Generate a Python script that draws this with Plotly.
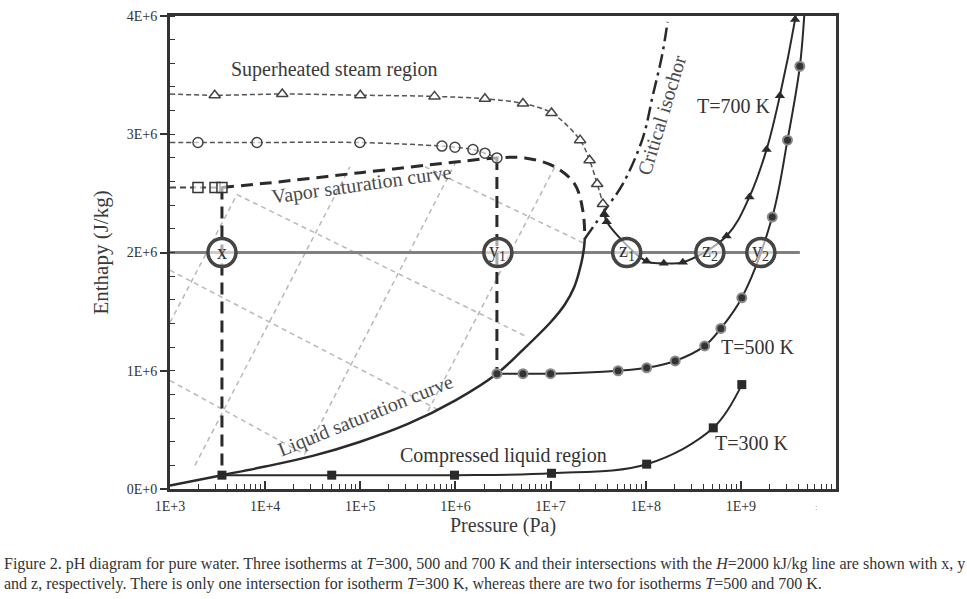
import numpy as np
import plotly.graph_objects as go

FONT = "Liberation Serif, Times New Roman, serif"
DARK = "#2a2a2a"
TXT = "#3a3a3a"

# ---------------- data (pressure as log10 P [Pa], enthalpy in J/kg) ----------------
liq_sat_logP = [3.0, 3.546, 4.0, 4.5, 5.0, 5.5, 6.0, 6.436, 6.7, 7.0, 7.15, 7.25, 7.32, 7.35, 7.36]
liq_sat_H = [0.03e6, 0.117e6, 0.19e6, 0.28e6, 0.40e6, 0.55e6, 0.75e6, 0.975e6, 1.17e6,
             1.41e6, 1.56e6, 1.71e6, 1.90e6, 2.03e6, 2.117e6]

vap_sat_logP = [3.546, 4.0, 5.0, 6.0, 6.436, 6.73, 7.045, 7.256, 7.34, 7.36]
vap_sat_H = [2.55e6, 2.585e6, 2.675e6, 2.765e6, 2.80e6, 2.80e6, 2.725e6, 2.575e6, 2.35e6, 2.117e6]

crit_iso_logP = [7.36, 7.59, 7.76, 7.97, 8.075, 8.17, 8.23]
crit_iso_H = [2.117e6, 2.38e6, 2.58e6, 2.97e6, 3.33e6, 3.66e6, 3.95e6]

# T = 300 K
t300_vap_logP = [3.0, 3.294, 3.473, 3.546]
t300_vap_H = [2.55e6, 2.55e6, 2.55e6, 2.55e6]
t300_liq_logP = [3.546, 4.70, 5.99, 7.01, 8.01, 8.71, 9.01]
t300_liq_H = [0.117e6, 0.117e6, 0.117e6, 0.133e6, 0.21e6, 0.517e6, 0.883e6]

# T = 500 K
t500_vap_logP = [3.0, 3.294, 3.914, 4.996, 5.858, 5.995, 6.184, 6.31, 6.436]
t500_vap_H = [2.93e6, 2.93e6, 2.93e6, 2.93e6, 2.90e6, 2.89e6, 2.87e6, 2.84e6, 2.80e6]
t500_liq_logP = [6.436, 6.71, 7.00, 7.71, 8.01, 8.31, 8.62, 8.79, 9.01, 9.33, 9.49, 9.62, 9.67]
t500_liq_H = [0.975e6, 0.975e6, 0.975e6, 1.0e6, 1.025e6, 1.083e6, 1.21e6, 1.358e6, 1.617e6,
              2.30e6, 2.95e6, 3.575e6, 4.05e6]

# T = 700 K
t700_vap_logP = [3.0, 3.47, 4.18, 5.00, 5.78, 6.31, 6.71, 7.01, 7.31, 7.41, 7.49, 7.55, 7.57]
t700_vap_H = [3.34e6, 3.33e6, 3.34e6, 3.33e6, 3.32e6, 3.30e6, 3.26e6, 3.18e6, 2.95e6, 2.78e6,
              2.58e6, 2.41e6, 2.32e6]
t700_sc_logP = [7.57, 7.59, 8.01, 8.19, 8.39, 8.85, 9.09, 9.27, 9.41, 9.57, 9.585]
t700_sc_H = [2.32e6, 2.26e6, 1.925e6, 1.91e6, 1.917e6, 2.14e6, 2.47e6, 2.87e6, 3.325e6, 3.97e6, 4.05e6]

# light grey dashed lines inside the two-phase dome (start -> end)
grid_start_logP = [3.0, 3.263, 4.419, 5.711, 3.0, 3.0, 3.704, 5.679]
grid_start_H = [1.408e6, 0.20e6, 0.30e6, 0.658e6, 1.85e6, 0.917e6, 2.49e6, 2.725e6]
grid_end_logP = [3.704, 4.891, 6.016, 7.045, 5.806, 4.419, 6.762, 7.361]
grid_end_H = [2.49e6, 2.725e6, 2.783e6, 2.725e6, 0.675e6, 0.292e6, 1.283e6, 2.075e6]

# H = 2000 kJ/kg line and its intersections
h_line_value = 2.0e6
h_line_logP = [3.0, 9.62]
cross_labels = ["x", "y<sub>1</sub>", "z<sub>1</sub>", "z<sub>2</sub>", "y<sub>2</sub>"]
cross_logP = [3.546, 6.446, 7.80, 8.674, 9.21]

# tie lines (two-phase, constant T)
tie_logP = [3.546, 6.436]
tie_H_top = [2.55e6, 2.80e6]
tie_H_bot = [0.117e6, 0.975e6]

x_tick_vals = [1e3, 1e4, 1e5, 1e6, 1e7, 1e8, 1e9]
x_tick_text = ["1E+3", "1E+4", "1E+5", "1E+6", "1E+7", "1E+8", "1E+9"]
y_tick_vals = [0, 1e6, 2e6, 3e6, 4e6]
y_tick_text = ["0E+0", "1E+6", "2E+6", "3E+6", "4E+6"]


def P(lp):
    return 10 ** np.asarray(lp, dtype=float)


fig = go.Figure()

# grey dashed lines
for i in range(len(grid_start_logP)):
    fig.add_trace(go.Scatter(
        x=P([grid_start_logP[i], grid_end_logP[i]]), y=[grid_start_H[i], grid_end_H[i]],
        mode="lines", line=dict(color="#b8b8b8", width=1.5, dash="5px,4px"), hoverinfo="skip"))

# H = 2E6 line
fig.add_trace(go.Scatter(x=P(h_line_logP), y=[h_line_value] * 2, mode="lines",
                         line=dict(color="#808080", width=3), hoverinfo="skip"))

# isotherm vapour parts (thin dashed)
fig.add_trace(go.Scatter(x=P(t700_vap_logP), y=t700_vap_H, mode="lines", line_shape="spline",
                         line=dict(color="#555555", width=1.5, dash="5px,3px")))
fig.add_trace(go.Scatter(x=P(t500_vap_logP), y=t500_vap_H, mode="lines", line_shape="spline",
                         line=dict(color="#555555", width=1.5, dash="5px,3px")))
fig.add_trace(go.Scatter(x=P(t300_vap_logP), y=t300_vap_H, mode="lines",
                         line=dict(color="#444444", width=2, dash="6px,4px")))

# saturation curves
fig.add_trace(go.Scatter(x=P(liq_sat_logP), y=liq_sat_H, mode="lines", line_shape="spline",
                         line=dict(color=DARK, width=2.5)))
fig.add_trace(go.Scatter(x=P(vap_sat_logP), y=vap_sat_H, mode="lines", line_shape="spline",
                         line=dict(color=DARK, width=3, dash="12px,7px")))
# tie lines
for i in range(len(tie_logP)):
    fig.add_trace(go.Scatter(x=P([tie_logP[i]] * 2), y=[tie_H_top[i], tie_H_bot[i]], mode="lines",
                             line=dict(color=DARK, width=3, dash="12px,7px")))

# critical isochor
fig.add_trace(go.Scatter(x=P(crit_iso_logP), y=crit_iso_H, mode="lines", line_shape="spline",
                         line=dict(color=DARK, width=2.5, dash="14px,5px,3px,5px")))

# liquid / supercritical isotherm lines
fig.add_trace(go.Scatter(x=P(t300_liq_logP), y=t300_liq_H, mode="lines", line_shape="spline",
                         line=dict(color=DARK, width=2)))
fig.add_trace(go.Scatter(x=P(t500_liq_logP), y=t500_liq_H, mode="lines", line_shape="spline",
                         line=dict(color=DARK, width=2)))
fig.add_trace(go.Scatter(x=P(t700_sc_logP), y=t700_sc_H, mode="lines", line_shape="spline",
                         line=dict(color=DARK, width=2)))

# markers
fig.add_trace(go.Scatter(x=P(t700_vap_logP[1:-1]), y=t700_vap_H[1:-1], mode="markers",
                         marker=dict(symbol="triangle-up", size=10, color="white",
                                     line=dict(color="#444444", width=1.5)), cliponaxis=False))
fig.add_trace(go.Scatter(x=P(t500_vap_logP[1:]), y=t500_vap_H[1:], mode="markers",
                         marker=dict(symbol="circle", size=10, color="rgba(255,255,255,0.6)",
                                     line=dict(color="#444444", width=1.5)), cliponaxis=False))
fig.add_trace(go.Scatter(x=P(t300_vap_logP), y=t300_vap_H, mode="markers",
                         marker=dict(symbol="square", size=10, color="rgba(255,255,255,0.6)",
                                     line=dict(color="#333333", width=1.5)), cliponaxis=False))
fig.add_trace(go.Scatter(x=P(t300_liq_logP), y=t300_liq_H, mode="markers",
                         marker=dict(symbol="square", size=9, color=DARK), cliponaxis=False))
fig.add_trace(go.Scatter(x=P(t500_liq_logP[:-1]), y=t500_liq_H[:-1], mode="markers",
                         marker=dict(symbol="circle", size=9, color="#333333",
                                     line=dict(color="#8a8a8a", width=2)), cliponaxis=False))
fig.add_trace(go.Scatter(x=P(t700_sc_logP[:-1]), y=t700_sc_H[:-1], mode="markers",
                         marker=dict(symbol="triangle-up", size=9, color=DARK), cliponaxis=False))

# intersection circles
fig.add_trace(go.Scatter(x=P(cross_logP), y=[h_line_value] * len(cross_logP), mode="markers",
                         marker=dict(symbol="circle", size=28, color="rgba(255,255,255,0.6)",
                                     line=dict(color="#444444", width=3.5)), cliponaxis=False))

annotations = []
for lbl, lp in zip(cross_labels, cross_logP):
    annotations.append(dict(x=lp, y=h_line_value, xref="x", yref="y", text=lbl, showarrow=False,
                            font=dict(family=FONT, size=20, color="#333333"), yshift=1))


def label(text, lp, h, angle=0, size=20, color=TXT):
    annotations.append(dict(x=lp, y=h, xref="x", yref="y", text=text, showarrow=False,
                            textangle=angle, font=dict(family=FONT, size=size, color=color)))


label("Superheated steam region", 4.734, 3.55e6)
label("Vapor saturation curve", 5.017, 2.575e6, angle=-8, color="#4a4a4a")
label("Liquid saturation curve", 5.06, 0.625e6, angle=-22, color="#4a4a4a")
label("Compressed liquid region", 6.50, 0.283e6, color="#333333")
label("T=700 K", 8.926, 3.24e6, color="#333333")
label("T=500 K", 9.178, 1.2e6, color="#333333")
label("T=300 K", 9.115, 0.392e6, color="#333333")
label("Critical isochor", 8.17, 3.16e6, angle=-73, color="#4a4a4a")

# axis titles
annotations.append(dict(x=0.5, y=-0.078, xref="paper", yref="paper", text="Pressure (Pa)",
                        showarrow=False, font=dict(family=FONT, size=20, color=TXT),
                        xanchor="center", yanchor="middle"))
annotations.append(dict(x=-0.105, y=0.5, xref="paper", yref="paper", text="Enthapy (J/kg)",
                        showarrow=False, textangle=-90, font=dict(family=FONT, size=21, color=TXT),
                        xanchor="center", yanchor="middle"))
annotations.append(dict(x=0.976, y=-0.052, xref="paper", yref="paper", text=":",
                        showarrow=False, font=dict(family=FONT, size=9, color="#888888")))

# caption
cap1 = ("Figure 2. pH diagram for pure water. Three isotherms at <i>T</i>=300, 500 and 700 K and their "
        "intersections with the <i>H</i>=2000 kJ/kg line are shown with x, y")
cap2 = ("and z, respectively. There is only one intersection for isotherm <i>T</i>=300 K, whereas there "
        "are two for isotherms <i>T</i>=500 and 700 K.")
annotations.append(dict(x=-0.253, y=-0.158, xref="paper", yref="paper", text=cap1, showarrow=False,
                        xanchor="left", yanchor="middle", font=dict(family=FONT, size=16, color="#333333")))
annotations.append(dict(x=-0.253, y=-0.200, xref="paper", yref="paper", text=cap2, showarrow=False,
                        xanchor="left", yanchor="middle", font=dict(family=FONT, size=16, color="#333333")))

fig.update_layout(
    width=967, height=599,
    margin=dict(l=170, r=131, t=9, b=110),
    paper_bgcolor="white", plot_bgcolor="white",
    showlegend=False,
    annotations=annotations,
    font=dict(family=FONT, color="#333333"),
)
fig.update_xaxes(
    type="log", range=[3, 10], showgrid=False, zeroline=False,
    showline=True, linecolor="#333333", linewidth=3, mirror=True,
    ticks="inside", ticklen=8, tickwidth=1.5, tickcolor="#333333",
    tickvals=x_tick_vals, ticktext=x_tick_text, ticklabelstandoff=2,
    tickfont=dict(family=FONT, size=14, color="#333333"),
    minor=dict(ticks="inside", ticklen=5, tickwidth=1, tickcolor="#333333", dtick="D1", showgrid=False),
)
fig.update_yaxes(
    range=[0, 4e6], showgrid=False, zeroline=False,
    showline=True, linecolor="#333333", linewidth=3, mirror=True,
    ticks="outside", ticklen=7, tickwidth=1.5, tickcolor="#333333",
    tickvals=y_tick_vals, ticktext=y_tick_text,
    tickfont=dict(family=FONT, size=14, color="#333333"),
    minor=dict(ticks="inside", ticklen=5, tickwidth=1, tickcolor="#333333", dtick=2e5, showgrid=False),
)

fig.write_html("out.html", config={"displayModeBar": False},
               post_script="document.body.style.margin='0';")
